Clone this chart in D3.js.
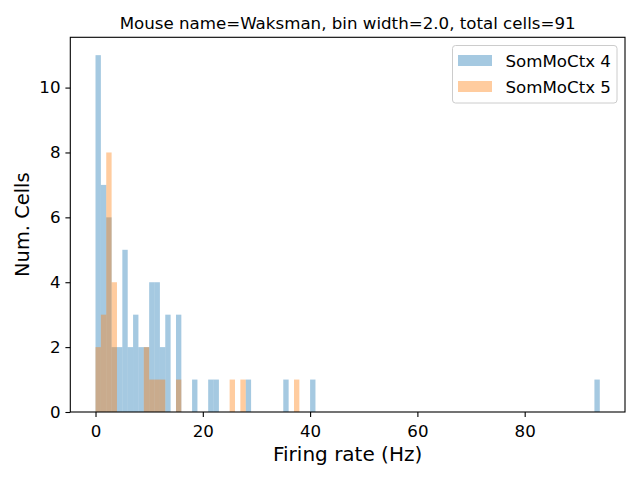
<!DOCTYPE html>
<html>
<head>
<meta charset="utf-8">
<script src="https://cdn.jsdelivr.net/npm/d3@7"></script>
<style>
  body { margin: 0; background: #fff; }
  svg text { font-family: "DejaVu Sans", sans-serif; fill: #000; }
</style>
</head>
<body>
<div id="chart"></div>
<script>
// 1 Hz bins, bin start (Hz) and number of cells in that bin
var binWidth = 1;
var ctx4Bins   = [0, 1, 2, 3, 4, 5, 6, 7, 8, 9, 10, 11, 12, 13, 15, 18, 21, 22, 28, 35, 40, 93];
var ctx4Counts = [11, 7, 6, 2, 2, 5, 2, 3, 2, 2, 4, 4, 2, 3, 3, 1, 1, 1, 1, 1, 1, 1];
var ctx5Bins   = [0, 1, 2, 3, 9, 10, 11, 12, 15, 25, 27, 37];
var ctx5Counts = [2, 3, 8, 4, 2, 1, 1, 1, 1, 1, 1, 1];
var seriesNames = ["SomMoCtx 4", "SomMoCtx 5"];
var seriesColors = ["#1f77b4", "#ff7f0e"];
var xTicks = [0, 20, 40, 60, 80];
var yTicks = [0, 2, 4, 6, 8, 10];

var width = 640, height = 480;
var margin = {top: 37.3, right: 15, bottom: 68, left: 70.3};
var fs = 16.67; // 12pt at 100 dpi

var svg = d3.select("#chart").append("svg")
    .attr("width", width)
    .attr("height", height);

var series = [
    {name: seriesNames[0], color: seriesColors[0], bins: ctx4Bins, counts: ctx4Counts},
    {name: seriesNames[1], color: seriesColors[1], bins: ctx5Bins, counts: ctx5Counts}
];

var xmax = d3.max(series, function (s) { return d3.max(s.bins) + binWidth; });
var ymax = d3.max(series, function (s) { return d3.max(s.counts); });
var pad = 0.05 * xmax;

var x = d3.scaleLinear()
    .domain([-pad, xmax + pad])
    .range([margin.left, width - margin.right]);

var y = d3.scaleLinear()
    .domain([0, ymax * 1.05])
    .range([height - margin.bottom, margin.top]);

// bars
series.forEach(function (s) {
    svg.append("g")
        .selectAll("rect")
        .data(s.bins.map(function (b, i) { return {x0: b, x1: b + binWidth, n: s.counts[i]}; }))
        .enter().append("rect")
        .attr("x", function (d) { return x(d.x0); })
        .attr("width", function (d) { return x(d.x1) - x(d.x0); })
        .attr("y", function (d) { return y(d.n); })
        .attr("height", function (d) { return y(0) - y(d.n); })
        .attr("fill", s.color)
        .attr("fill-opacity", 0.4);
});

// axes
var xAxis = svg.append("g")
    .attr("transform", "translate(0," + y.range()[0] + ")")
    .call(d3.axisBottom(x).tickValues(xTicks).tickSize(4.9).tickPadding(4.9).tickSizeOuter(0));
var yAxis = svg.append("g")
    .attr("transform", "translate(" + x.range()[0] + ",0)")
    .call(d3.axisLeft(y).tickValues(yTicks).tickSize(4.9).tickPadding(4.9).tickSizeOuter(0));

[xAxis, yAxis].forEach(function (a) {
    a.select(".domain").remove();
    a.selectAll(".tick line").attr("stroke", "#000").attr("stroke-width", 1.1);
    a.selectAll(".tick text").attr("font-size", fs).attr("font-family", "DejaVu Sans");
});
xAxis.selectAll(".tick text").attr("dy", "0.92em");

// frame
svg.append("rect")
    .attr("x", x.range()[0])
    .attr("y", y.range()[1])
    .attr("width", x.range()[1] - x.range()[0])
    .attr("height", y.range()[0] - y.range()[1])
    .attr("fill", "none")
    .attr("stroke", "#000")
    .attr("stroke-width", 1.1);

// title and labels
var cx = (x.range()[0] + x.range()[1]) / 2;
svg.append("text")
    .attr("x", cx).attr("y", 29)
    .attr("text-anchor", "middle")
    .attr("font-size", fs)
    .text("Mouse name=Waksman, bin width=2.0, total cells=91");

svg.append("text")
    .attr("x", cx).attr("y", 461)
    .attr("text-anchor", "middle")
    .attr("font-size", 20)
    .text("Firing rate (Hz)");

svg.append("text")
    .attr("transform", "translate(28.5," + ((y.range()[0] + y.range()[1]) / 2) + ")rotate(-90)")
    .attr("text-anchor", "middle")
    .attr("font-size", 19.44)
    .text("Num. Cells");

// legend
var legend = svg.append("g").attr("transform", "translate(452.5,45.5)");
legend.append("rect")
    .attr("width", 164.5).attr("height", 57.5)
    .attr("rx", 3)
    .attr("fill", "#fff").attr("fill-opacity", 0.8)
    .attr("stroke", "#cccccc").attr("stroke-width", 1);

series.forEach(function (s, i) {
    var row = legend.append("g").attr("transform", "translate(0," + (i * 26) + ")");
    row.append("rect")
        .attr("x", 5.5).attr("y", 9.5)
        .attr("width", 34).attr("height", 11)
        .attr("fill", s.color).attr("fill-opacity", 0.4);
    row.append("text")
        .attr("x", 53).attr("y", 21)
        .attr("font-size", fs)
        .text(s.name);
});
</script>
</body>
</html>
